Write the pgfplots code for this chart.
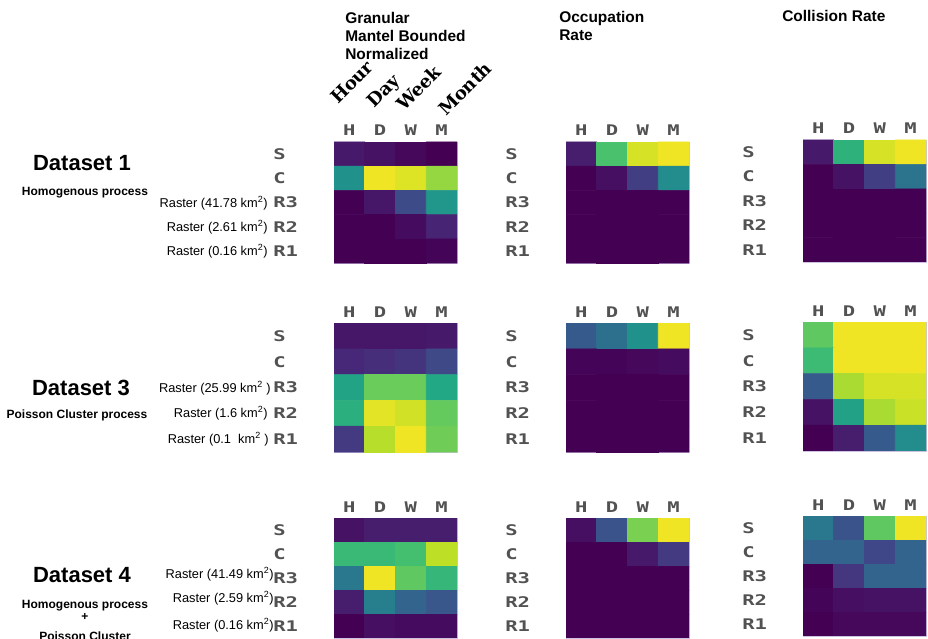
\documentclass[border=0pt]{standalone}
\usepackage{pgfplots}
\pgfplotsset{compat=1.18}
\usepackage{fontspec}
\setmainfont{Liberation Sans}
\newfontfamily\tickfont[FakeStretch=1.4]{DejaVu Sans Mono}
\newfontfamily\serifb{DejaVu Serif}
\newlength\px \setlength\px{0.75pt}
\definecolor{ticklab}{RGB}{82,82,82}
\definecolor{frame}{RGB}{205,195,225}
\pgfplotsset{
  colormap={mplviridis}{rgb255=(68,1,84) rgb255=(72,36,117) rgb255=(65,68,135) rgb255=(53,95,141) rgb255=(42,120,142) rgb255=(33,145,140) rgb255=(34,168,132) rgb255=(68,191,112) rgb255=(122,209,81) rgb255=(189,223,38) rgb255=(253,231,37)},
  hm/.style={
  width=123\px, scale only axis, anchor=north west,
  xmin=-0.5,xmax=3.5,ymin=-0.5,ymax=4.5, y dir=reverse,
  enlargelimits=false,
  colormap name=mplviridis, point meta min=0, point meta max=1,
  xtick={0,1,2,3}, xticklabels={H,D,W,M}, xticklabel pos=right,
  ytick={0,1,2,3,4}, yticklabels={S,C,R3,R2,R1},
  major tick length=0pt,
  tick label style={font=\fontsize{11}{12}\selectfont\tickfont\bfseries, text=ticklab, inner sep=0pt},
  xticklabel style={anchor=base, yshift=6\px},
  yticklabel style={anchor=west, xshift=-61\px},
  axis line style={draw=frame, line width=0.6pt},
}}
\newcommand\hmplot{\addplot[matrix plot*, mesh/cols=4, point meta=explicit]}
\begin{document}
\begin{tikzpicture}
\begin{scope}[x=0.75pt,y=0.75pt]
\path[use as bounding box] (0,0) rectangle (928,638);
% ---------- titles
\node[anchor=north west, align=left, inner sep=0pt, font=\fontsize{11.6}{13.5}\selectfont\bfseries] at (345,626) {Granular\\Mantel Bounded\\Normalized};
\node[anchor=north west, align=left, inner sep=0pt, font=\fontsize{11.6}{13.5}\selectfont\bfseries] at (559,627) {Occupation\\Rate};
\node[anchor=north west, align=left, inner sep=0pt, font=\fontsize{11.6}{13.5}\selectfont\bfseries] at (782,628) {Collision Rate};
\foreach \w/\xx/\yy in {Hour/338/533,Day/374/529,Week/404/526,Month/446/521}
  \node[rotate=45, anchor=base west, inner sep=0pt, font=\fontsize{13.5}{15}\selectfont\serifb\bfseries] at (\xx,\yy) {\w};
% ---------- dataset labels
\node[font=\fontsize{16.5}{18}\selectfont\bfseries] at (82,475) {Dataset 1};
\node[font=\fontsize{9}{11}\selectfont\bfseries] at (85,445) {Homogenous process};
\begin{scope}[every node/.style={anchor=east, inner sep=0pt, font=\fontsize{9.6}{11}\selectfont}]
\node at (268,435) {Raster (41.78 km\textsuperscript{2})};
\node at (268,411) {Raster (2.61 km\textsuperscript{2})};
\node at (268,387) {Raster (0.16 km\textsuperscript{2})};
\node at (271,250) {Raster (25.99 km\textsuperscript{2} )};
\node at (268,225) {Raster (1.6 km\textsuperscript{2})};
\node at (269,199) {Raster (0.1\ \ km\textsuperscript{2} )};
\node at (274,64) {Raster (41.49 km\textsuperscript{2})};
\node at (274,40) {Raster (2.59 km\textsuperscript{2})};
\node at (274,13) {Raster (0.16 km\textsuperscript{2})};
\end{scope}
\node[font=\fontsize{16.5}{18}\selectfont\bfseries] at (81,250) {Dataset 3};
\node[font=\fontsize{9}{11}\selectfont\bfseries] at (77,223) {Poisson Cluster process};
\node[font=\fontsize{16.5}{18}\selectfont\bfseries] at (82,63) {Dataset 4};
\node[font=\fontsize{9}{11}\selectfont\bfseries] at (85,32) {Homogenous process};
\node[font=\fontsize{9}{11}\selectfont\bfseries] at (85,21) {+};
\node[font=\fontsize{9}{11}\selectfont\bfseries] at (85,2) {Poisson Cluster};
\end{scope}
% ===== Row 1 (Dataset 1)
\begin{axis}[hm, height=121\px, at={(334\px,496\px)}]
\hmplot table[meta=c]{
x y c
0 0 0.07
1 0 0.05
2 0 0.02
3 0 0.00
0 1 0.50
1 1 0.98
2 1 0.95
3 1 0.84
0 2 0.00
1 2 0.06
2 2 0.23
3 2 0.52
0 3 0.00
1 3 0.00
2 3 0.03
3 3 0.10
0 4 0.00
1 4 0.00
2 4 0.00
3 4 0.01
};
\end{axis}
\begin{axis}[hm, height=121\px, at={(566\px,496\px)}]
\hmplot table[meta=c]{
x y c
0 0 0.08
1 0 0.71
2 0 0.94
3 0 0.98
0 1 0.00
1 1 0.04
2 1 0.18
3 1 0.48
0 2 0.00
1 2 0.00
2 2 0.00
3 2 0.00
0 3 0.00
1 3 0.00
2 3 0.00
3 3 0.00
0 4 0.00
1 4 0.00
2 4 0.00
3 4 0.00
};
\end{axis}
\begin{axis}[hm, height=122\px, at={(803\px,498\px)}]
\hmplot table[meta=c]{
x y c
0 0 0.07
1 0 0.64
2 0 0.94
3 0 0.98
0 1 0.00
1 1 0.05
2 1 0.18
3 1 0.38
0 2 0.00
1 2 0.00
2 2 0.00
3 2 0.00
0 3 0.00
1 3 0.00
2 3 0.00
3 3 0.00
0 4 0.00
1 4 0.00
2 4 0.00
3 4 0.00
};
\end{axis}
% ===== Row 2 (Dataset 3)
\begin{axis}[hm, height=129\px, at={(334\px,315\px)}]
\hmplot table[meta=c]{
x y c
0 0 0.06
1 0 0.06
2 0 0.06
3 0 0.07
0 1 0.11
1 1 0.13
2 1 0.15
3 1 0.22
0 2 0.58
1 2 0.77
2 2 0.77
3 2 0.60
0 3 0.63
1 3 0.96
2 3 0.93
3 3 0.76
0 4 0.17
1 4 0.89
2 4 0.98
3 4 0.78
};
\end{axis}
\begin{axis}[hm, height=129\px, at={(566\px,315\px)}]
\hmplot table[meta=c]{
x y c
0 0 0.28
1 0 0.37
2 0 0.50
3 0 0.98
0 1 0.01
1 1 0.01
2 1 0.02
3 1 0.03
0 2 0.00
1 2 0.00
2 2 0.00
3 2 0.00
0 3 0.00
1 3 0.00
2 3 0.00
3 3 0.00
0 4 0.00
1 4 0.00
2 4 0.00
3 4 0.00
};
\end{axis}
\begin{axis}[hm, height=129\px, at={(803\px,316\px)}]
\hmplot table[meta=c]{
x y c
0 0 0.75
1 0 0.98
2 0 0.98
3 0 0.98
0 1 0.68
1 1 0.98
2 1 0.98
3 1 0.98
0 2 0.28
1 2 0.87
2 2 0.94
3 2 0.94
0 3 0.05
1 3 0.57
2 3 0.87
3 3 0.92
0 4 0.00
1 4 0.08
2 4 0.28
3 4 0.48
};
\end{axis}
% ===== Row 3 (Dataset 4)
\begin{axis}[hm, height=120\px, at={(334\px,120\px)}]
\hmplot table[meta=c]{
x y c
0 0 0.05
1 0 0.08
2 0 0.08
3 0 0.08
0 1 0.67
1 1 0.67
2 1 0.70
3 1 0.90
0 2 0.40
1 2 0.98
2 2 0.75
3 2 0.66
0 3 0.08
1 3 0.43
2 3 0.32
3 3 0.27
0 4 0.00
1 4 0.04
2 4 0.03
3 4 0.03
};
\end{axis}
\begin{axis}[hm, height=120\px, at={(566\px,120\px)}]
\hmplot table[meta=c]{
x y c
0 0 0.04
1 0 0.26
2 0 0.80
3 0 0.98
0 1 0.00
1 1 0.00
2 1 0.07
3 1 0.17
0 2 0.00
1 2 0.00
2 2 0.00
3 2 0.00
0 3 0.00
1 3 0.00
2 3 0.00
3 3 0.00
0 4 0.00
1 4 0.00
2 4 0.00
3 4 0.00
};
\end{axis}
\begin{axis}[hm, height=120\px, at={(803\px,122\px)}]
\hmplot table[meta=c]{
x y c
0 0 0.40
1 0 0.26
2 0 0.75
3 0 0.98
0 1 0.32
1 1 0.32
2 1 0.21
3 1 0.32
0 2 0.00
1 2 0.16
2 2 0.32
3 2 0.32
0 3 0.01
1 3 0.04
2 3 0.05
3 3 0.05
0 4 0.00
1 4 0.02
2 4 0.02
3 4 0.02
};
\end{axis}
\end{tikzpicture}
\end{document}
